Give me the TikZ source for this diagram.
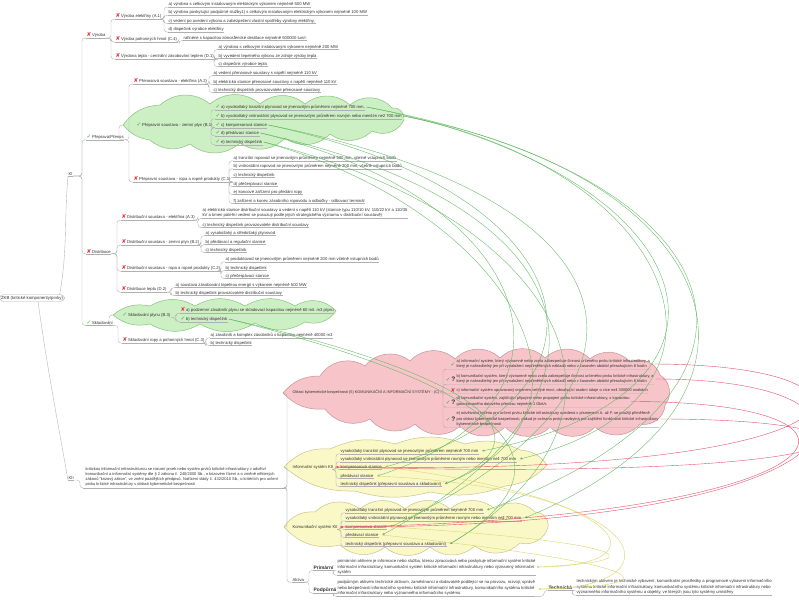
\documentclass[tikz,border=0pt]{standalone}
\usepackage{fontspec}
\setmainfont{Liberation Sans}
\newfontfamily\iconfont{DejaVu Sans}
\usetikzlibrary{calc,arrows.meta}
\definecolor{txt}{HTML}{333333}
\definecolor{ln}{HTML}{B0B0B0}
\definecolor{xred}{HTML}{E8303A}
\definecolor{okg}{HTML}{3DAA3D}
\definecolor{gfill}{HTML}{CDEFC4}
\definecolor{gdraw}{HTML}{86C27A}
\definecolor{pfill}{HTML}{F6C4C9}
\definecolor{pdraw}{HTML}{C9939A}
\definecolor{yfill}{HTML}{FBF8C8}
\definecolor{ydraw}{HTML}{C9C48A}
\definecolor{rg}{HTML}{5DB85D}
\definecolor{rr}{HTML}{E8506E}
\definecolor{ry}{HTML}{DDD56A}
\newcommand\xx{{\iconfont\fontsize{5.6}{5}\selectfont\textcolor{xred}{✘}}\hspace{0.8pt}}
\newcommand\ok{{\iconfont\fontsize{5.6}{5}\selectfont\textcolor{okg}{✓}}\hspace{0.8pt}}
\newcommand\qq{{\fontsize{6.5}{5}\selectfont\bfseries ?}}
\tikzset{
  x=1pt,y=-1pt,
  itm/.style={anchor=west,inner sep=0.4pt,font=\fontsize{4.2}{5.6}\selectfont,text=txt},
  bold/.style={font=\fontsize{4.9}{5.6}\selectfont\bfseries},
  uline/.style={draw=ln,line width=0.35pt},
  conn/.style={draw=ln,line width=0.35pt,rounded corners=3pt},
  gcloud/.style={fill=gfill,draw=gdraw,line width=0.5pt},
  pcloud/.style={fill=pfill,draw=pdraw,line width=0.5pt},
  ycloud/.style={fill=yfill,draw=ydraw,line width=0.5pt},
  relg/.style={draw=rg,line width=0.35pt,-{Latex[length=2.4pt,width=2.2pt]}},
  relr/.style={draw=rr,line width=0.4pt,-{Latex[length=2.4pt,width=2.2pt]}},
  rely/.style={draw=ry,line width=0.4pt,-{Latex[length=2.4pt,width=2.2pt]}},
  pit/.style={itm,align=left,font=\fontsize{3.95}{5.8}\selectfont},
}
\newcommand\It[6][]{%
  \node[itm,#1] (#2) at (#4,#5) {#6};
  \draw[uline] (#2.south west) -- (#2.south east);
  \draw[conn] (#3.south east) -| ($(#2.south west)+(-4,0)$) -- (#2.south west);}
\newcommand\PItem[4]{\node[pit] (#1) at (456,#2) {#4};
  \draw[uline,draw=pdraw!60] ($(#1.south west)+(-12,0)$) -- (#1.south east);
  \draw[conn,draw=pdraw!80] (pl.east) -| ($(#1.south west)+(-13,0)$) -- ($(#1.south west)+(-12,0)$);
  \node[itm,anchor=east] at ($(#1.west)+(0,0.3)$) {#3};}
\newcommand\Rel[7]{\draw[#1] ($(#2.east)+(1,0)$) .. controls ($(#2.east)+(#4)$) and ($(#3.east)+(#5)$) .. ($(#3.east)+(#6,#7)$);}
\begin{document}
\begin{tikzpicture}
\useasboundingbox (0,0) rectangle (799,599);
\fill[white] (0,0) rectangle (799,599);

% ---------- clouds ----------
\draw[gcloud] (123,125) to[bend left=25] (160,105) to[bend left=40] (210,104) to[bend left=40] (260,104) to[bend left=40] (305,104) to[bend left=40] (350,105) to[bend left=45] (392,108) to[bend left=60] (404,120) to[bend left=45] (372,131) to[bend left=40] (330,134) to[bend left=40] (285,138) to[bend left=40] (240,143) to[bend left=40] (190,144) to[bend left=35] (150,140) to[bend left=20] (123,125) -- cycle;
\draw[gcloud] (113,315) to[bend left=25] (150,306) to[bend left=30] (195,306) to[bend left=30] (245,306) to[bend left=30] (295,306) to[bend left=40] (336,311) to[bend left=35] (305,322) to[bend left=30] (255,323) to[bend left=30] (200,324) to[bend left=30] (150,324) to[bend left=25] (113,315) -- cycle;
\draw[pcloud] (283,393) to[bend left=25] (320,376) to[bend left=45] (365,366) to[bend left=45] (410,361) to[bend left=45] (455,359) to[bend left=45] (500,358) to[bend left=45] (545,358) to[bend left=45] (590,359) to[bend left=45] (630,362) to[bend left=50] (660,375) to[bend left=50] (665,405) to[bend left=50] (640,424) to[bend left=45] (595,427) to[bend left=45] (550,427) to[bend left=45] (505,427) to[bend left=45] (460,426) to[bend left=45] (415,424) to[bend left=45] (370,419) to[bend left=40] (325,409) to[bend left=25] (283,393) -- cycle;
\draw[ycloud] (284,467) to[bend left=25] (330,449) to[bend left=20] (395,444) to[bend left=20] (465,444) to[bend left=20] (520,450) to[bend left=25] (547,465) to[bend left=20] (505,486) to[bend left=15] (430,492) to[bend left=15] (355,491) to[bend left=20] (284,467) -- cycle;
\draw[ycloud] (284,527) to[bend left=30] (315,512) to[bend left=40] (360,509) to[bend left=40] (405,509) to[bend left=40] (450,509) to[bend left=40] (495,509) to[bend left=40] (535,512) to[bend left=50] (548,527) to[bend left=45] (520,543) to[bend left=40] (475,546) to[bend left=40] (430,547) to[bend left=40] (385,547) to[bend left=40] (340,545) to[bend left=30] (284,527) -- cycle;

% ---------- root ----------
\node[draw=ln,line width=0.35pt,rounded corners=4pt,inner xsep=1.5pt,inner ysep=1.4pt,font=\fontsize{4.3}{5}\selectfont,text=txt] (root) at (32,298) {ZKB (kritické komponenty/prvky)};
\node[itm] (ki) at (68,174) {KI};
\draw[uline] (ki.south west) -- (ki.south east);
\draw[uline] ($(root.north east)+(-5,0.5)$) to[out=80,in=-95] (ki.south west);
\node[itm] (kii) at (68,478) {KII};
\draw[uline] (kii.south west) -- (kii.south east);
\draw[uline] ($(root.south)+(6,0)$) to[out=-82,in=100] (kii.south west);

% ---------- KI ----------
\It{vyr}{ki}{86}{35}{\xx Výroba}
\It{a1}{vyr}{115}{16}{\xx Výroba elektřiny (A.1)}
\It{a1a}{a1}{168}{4.5}{a) výrobna s celkovým instalovaným elektrickým výkonem nejméně 500 MW}
\It{a1b}{a1}{168}{12.5}{b) výrobna poskytující podpůrné služby1) s celkovým instalovaným elektrickým výkonem nejméně 100 MW}
\It{a1c}{a1}{168}{21}{c) vedení po uvedení výkonu a zabezpečení vlastní spotřeby výrobny elektřiny,}
\It{a1d}{a1}{168}{29.5}{d) dispečink výrobce elektřiny}
\It{c4}{vyr}{115}{39}{\xx Výroba pohonných hmot (C.4)}
\It{c4a}{c4}{183}{38}{rafinérie s kapacitou atmosférické destilace nejméně 500000 tun/r.}
\It{d1}{vyr}{115}{56}{\xx Výrobna tepla - centrální zásobování teplem (D.1)}
\It{d1a}{d1}{218}{47}{a) výrobna s celkovým instalovaným výkonem nejméně 200 MW}
\It{d1b}{d1}{218}{56}{b) vyvedení tepelného výkonu ze zdroje výroby tepla}
\It{d1c}{d1}{218}{64}{c) dispečink výrobce tepla}

\It{pre}{ki}{86}{137}{\ok Přeprava/Přenos}
\It{a2}{pre}{133}{81}{\xx Přenosová soustava - elektřina (A.2)}
\It{a2a}{a2}{213}{73}{a) vedení přenosové soustavy s napětí nejméně 110 kV}
\It{a2b}{a2}{213}{82}{b) elektrická stanice přenosové soustavy s napětí nejméně 110 kV}
\It{a2c}{a2}{213}{90}{c) technický dispečink provozovatele přenosové soustavy}
\node[itm] (b1) at (136,125) {\ok Přepravní soustava - zemní plyn (B.1)};
\coordinate (b1tip) at (123,125);
\draw[conn] (pre.south east) -| ($(b1tip)+(-4,0)$) -- (b1tip);
\It{b1a}{b1}{215}{107}{\ok a) vysokotlaký tranzitní plynovod se jmenovitým průměrem nejméně 700 mm,}
\It{b1b}{b1}{215}{116}{\ok b) vysokotlaký vnitrostátní plynovod se jmenovitým průměrem rovným nebo menším než 700 mm}
\It{b1c}{b1}{215}{125}{\ok c) kompresorová stanice}
\It{b1d}{b1}{215}{133}{\ok d) předávací stanice}
\It{b1e}{b1}{215}{142}{\ok e) technický dispečink}
\It{c1}{pre}{133}{179}{\xx Přepravní soustava - ropa a ropné produkty (C.1)}
\It{c1a}{c1}{233}{158}{a) tranzitní ropovod se jmenovitým průměrem nejméně 500 mm, včetně vstupních bodů}
\It{c1b}{c1}{233}{166}{b) vnitrostátní ropovod se jmenovitým průměrem nejméně 200 mm, včetně vstupních bodů}
\It{c1c}{c1}{233}{175}{c) technický dispečink}
\It{c1d}{c1}{233}{184}{d) přečerpávací stanice}
\It{c1e}{c1}{233}{192}{e) koncové zařízení pro předání ropy}
\It{c1f}{c1}{233}{201}{f) zařízení a konec zásobního ropovodu a odbočky - odbovací terminál}

\It{dis}{ki}{86}{251}{\xx Distribuce}
\It{a3}{dis}{121}{217}{\xx Distribuční soustava - elektřina (A.3)}
\It[align=left]{a3a}{a3}{202}{213}{a) elektrická stanice distribuční soustavy a vedení s napětí 110 kV (stanice typu 110/10 kV, 110/22 kV a 110/35\\kV a kmen páteřní vedení se posuzují podle jejich strategického významu v distribuční soustavě)}
\It{a3c}{a3}{202}{225}{c) technický dispečink provozovatele distribuční soustavy}
\It{b2}{dis}{121}{242}{\xx Distribuční soustava - zemní plyn (B.2)}
\It{b2a}{b2}{205}{233}{a) vysokotlaký a středotlaký plynovod}
\It{b2b}{b2}{205}{242}{b) předávací a regulační stanice}
\It{b2c}{b2}{205}{250}{c) technický dispečink}
\It{c2}{dis}{121}{268}{\xx Distribuční soustava - ropa a ropné produkty (C.2)}
\It{c2a}{c2}{225}{259}{a) produktovod se jmenovitým průměrem nejméně 200 mm včetně vstupních bodů}
\It{c2b}{c2}{225}{268}{b) technický dispečink}
\It{c2c}{c2}{225}{276}{c) přečerpávací stanice}
\It{d2}{dis}{121}{289}{\xx Distribuce tepla (D.2)}
\It{d2a}{d2}{175}{285}{a) soustava zásobování tepelnou energií s výkonem nejméně 500 MW}
\It{d2b}{d2}{175}{293}{b) technický dispečink provozovatele distribuční soustavy}

\It{skl}{ki}{86}{323}{\ok Skladování}
\node[itm] (b3) at (122,315) {\ok Skladování plynu (B.3)};
\coordinate (b3tip) at (113,315);
\draw[conn] (skl.south east) -| ($(b3tip)+(-4,0)$) -- (b3tip);
\It{b3a}{b3}{180}{310}{\xx a) podzemní zásobník plynu se skladovací kapacitou nejméně 60 mil. m3 plynu}
\It{b3b}{b3}{180}{319}{\ok b) technický dispečink}
\It{c3}{skl}{122}{340}{\xx Skladování ropy a pohonných hmot (C.3)}
\It{c3a}{c3}{210}{335}{a) zásobník a komplex zásobníků s kapacitou nejméně 40000 m3}
\It{c3b}{c3}{210}{343}{b) technický dispečink}

% ---------- KII ----------
\node[itm,align=left,font=\fontsize{4.0}{4.9}\selectfont] (desc) at (85,476.5) {kritickou informační infrastrukturou se rozumí prvek nebo systém prvků kritické infrastruktury v odvětví\\komunikační a informační systémy dle § 2 zákona č. 240/2000 Sb., o krizovém řízení a o změně některých\\zákonů "krizový zákon", ve znění pozdějších předpisů. Nařízení vlády č. 432/2010 Sb., o kritériích pro určení\\prvku kritické infrastruktury v oblasti kybernetické bezpečnosti};
\coordinate (kspine) at (286,488);
\coordinate (dsw) at (83,488);
\draw[uline] (dsw) -- (kspine);
\draw[conn] (kii.south east) -| ($(dsw)+(-3,0)$) -- (dsw);
\coordinate (ptip) at (283,393);
\coordinate (itip) at (284,467);
\coordinate (ktip) at (284,527);
\draw[conn] (kspine) -- ++(1,0) |- (ptip);
\draw[conn] (kspine) -- ++(1,0) |- (itip);
\draw[conn] (kspine) -- ++(1,0) |- (ktip);

\node[itm,font=\fontsize{3.85}{5}\selectfont] (pl) at (292,392) {Oblast kybernetické bezpečnosti (5) KOMUNIKAČNÍ A INFORMAČNÍ SYSTÉMY - (C)};
\PItem{pa}{364}{\ok}{a) informační systém, který významně nebo zcela zabezpečuje činnost určeného prvku kritické infrastruktury, a\\který je nahraditelný jen při vynaložení nepřiměřených nákladů nebo v časovém období přesahujícím 8 hodin}
\PItem{pb}{379}{\ok\qq}{b) komunikační systém, který významně nebo zcela zabezpečuje činnost určeného prvku kritické infrastruktury, a\\který je nahraditelný jen při vynaložení nepřiměřených nákladů nebo v časovém období přesahujícím 8 hodin}
\PItem{pc}{390.5}{\xx}{c) informační systém spravovaný orgánem veřejné moci, obsahující osobní údaje o více než 300000 osobách}
\PItem{pd}{401.5}{\ok\qq}{d) komunikační systém, zajišťující připojení nebo propojení prvku kritické infrastruktury, s kapacitou\\garantovaného datového přenosu nejméně 1 Gbit/s}
\PItem{pe}{419}{\ok\qq}{e) odvětvová kritéria pro určení prvku kritické infrastruktury uvedená v písmenech A. až F. se použijí přiměřeně\\pro oblast kybernetické bezpečnosti, pokud je ochrana prvku nezbytná pro zajištění funkčnosti kritické infrastruktury\\kybernetické bezpečnosti}

\node[itm] (il) at (292,467) {Informační systém KII};
\It{i1}{il}{340}{451}{vysokotlaký tranzitní plynovod se jmenovitým průměrem nejméně 700 mm}
\It{i2}{il}{340}{459}{vysokotlaký vnitrostátní plynovod se jmenovitým průměrem rovným nebo menším než 700 mm}
\It{i3}{il}{340}{467}{kompresorová stanice}
\It{i4}{il}{340}{476}{předávací stanice}
\It{i5}{il}{340}{484}{technický dispečink (přepravní soustava a skladování)}

\node[itm] (kl) at (292,527) {Komunikační systém KII};
\It{k1}{kl}{345}{510}{vysokotlaký tranzitní plynovod se jmenovitým průměrem nejméně 700 mm}
\It{k2}{kl}{345}{518}{vysokotlaký vnitrostátní plynovod se jmenovitým průměrem rovným nebo menším než 700 mm}
\It{k3}{kl}{345}{527}{kompresorová stanice}
\It{k4}{kl}{345}{535}{předávací stanice}
\It{k5}{kl}{345}{544}{technický dispečink (přepravní soustava a skladování)}

\node[itm] (akt) at (292,580) {Aktiva};
\draw[uline] (akt.south west) -- (akt.south east);
\draw[conn] (kspine) -- ++(1,0) |- (akt.south west);
\It[bold]{prim}{akt}{313}{568}{Primární}
\It[align=left]{primt}{prim}{337}{567}{primárním aktivem je informace nebo služba, kterou zpracovává nebo poskytuje informační systém kritické\\informační infrastruktury, komunikační systém kritické informační infrastruktury nebo významný informační\\systém}
\It[bold]{podp}{akt}{313}{590}{Podpůrná}
\It[align=left]{podpt}{podp}{337}{588}{podpůrným aktivem technické aktivum, zaměstnanci a dodavatelé podílející se na provozu, rozvoji, správě\\nebo bezpečnosti informačního systému kritické informační infrastruktury, komunikačního systému kritické\\informační infrastruktury nebo významného informačního systému}
\It[bold]{tech}{podpt}{548}{588}{Technická}
\It[align=left]{techt}{tech}{576}{587}{technickým aktivem je technické vybavení, komunikační prostředky a programové vybavení informačního\\systému kritické informační infrastruktury, komunikačního systému kritické informační infrastruktury nebo\\významného informačního systému a objekty, ve kterých jsou tyto systémy umístěny}

% ---------- relationships ----------
\Rel{relg}{b1a}{k1}{380,70}{330,-120}{3}{0}
\Rel{relg}{b1a}{i1}{340,65}{300,-60}{3}{0}
\Rel{relg}{b1b}{k2}{320,60}{290,-120}{3}{0}
\Rel{relg}{b1b}{i2}{280,55}{250,-60}{3}{0}
\Rel{relg}{b1c}{k3}{380,75}{300,-140}{3}{0}
\Rel{relg}{b1c}{i3}{330,70}{250,-70}{3}{0}
\Rel{relg}{b1d}{k4}{340,75}{260,-140}{3}{0}
\Rel{relg}{b1d}{i4}{290,70}{220,-70}{3}{0}
\Rel{relg}{b1e}{k5}{300,75}{220,-130}{3}{0}
\Rel{relg}{b1e}{i5}{250,70}{180,-70}{3}{0}
\Rel{relg}{b3b}{i5}{180,40}{140,-60}{3}{0}
\Rel{relg}{b3b}{k5}{200,50}{170,-100}{3}{0}

\Rel{relr}{pa}{il}{260,0}{560,10}{2}{0}
\Rel{relr}{pb}{kl}{270,0}{540,0}{2}{0}
\Rel{relr}{pd}{kl}{280,0}{520,-10}{2}{0}
\Rel{relr}{pe}{il}{260,0}{580,15}{2}{0}

\coordinate (ydot1) at (538,567);
\coordinate (ydot2) at (540,589);
\fill[ry] (ydot1) circle (1.1pt);
\fill[ry] (ydot2) circle (1.1pt);
\draw[rely] (ydot1) .. controls (660,567) and (640,500) .. ($(i3.east)+(3,0)$);
\draw[rely] (ydot1) .. controls (680,560) and (600,540) .. ($(k3.east)+(3,0)$);
\draw[rely] (ydot2) .. controls (680,590) and (660,490) .. ($(i4.east)+(3,0)$);
\draw[rely] (ydot2) .. controls (700,585) and (620,560) .. ($(k4.east)+(3,0)$);
\end{tikzpicture}
\end{document}
